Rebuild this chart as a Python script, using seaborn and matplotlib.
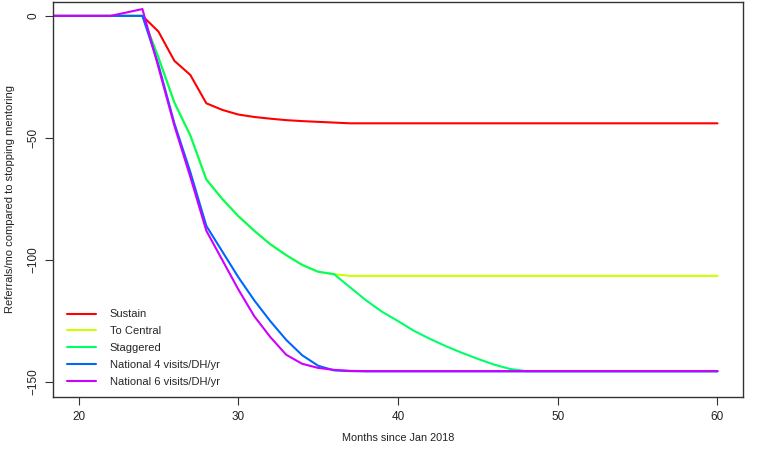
import matplotlib
matplotlib.use("Agg")
import matplotlib.pyplot as plt
import pandas as pd
import seaborn as sns

months = list(range(18, 61))

sustain = [0, 0, 0, 0, 0, 0, 0, -6.4, -18.4, -24.2,
           -35.8, -38.5, -40.4, -41.4, -42.1, -42.7, -43.1, -43.4, -43.7, -44.0,
           -44.0, -44.0, -44.0, -44.0, -44.0, -44.0, -44.0, -44.0, -44.0, -44.0,
           -44.0, -44.0, -44.0, -44.0, -44.0, -44.0, -44.0, -44.0, -44.0, -44.0,
           -44.0, -44.0, -44.0]
to_central = [0, 0, 0, 0, 0, 0, 0, -17, -35.5, -49,
              -67, -75, -82, -88, -93.5, -98, -102, -104.8, -105.8, -106.5,
              -106.5, -106.5, -106.5, -106.5, -106.5, -106.5, -106.5, -106.5, -106.5, -106.5,
              -106.5, -106.5, -106.5, -106.5, -106.5, -106.5, -106.5, -106.5, -106.5, -106.5,
              -106.5, -106.5, -106.5]
staggered = [0, 0, 0, 0, 0, 0, 0, -17, -35.5, -49,
             -67, -75, -82, -88, -93.5, -98, -102, -104.8, -105.8, -111.2,
             -116.5, -121.2, -125, -129, -132.3, -135.3, -138, -140.5, -142.8, -144.6,
             -145.5, -145.5, -145.5, -145.5, -145.5, -145.5, -145.5, -145.5, -145.5, -145.5,
             -145.5, -145.5, -145.5]
national4 = [0, 0, 0, 0, 0, 0, 0, -20, -44, -64,
             -86, -96.5, -107, -116.5, -125, -132.7, -139, -143.3, -145.2, -145.5,
             -145.6, -145.6, -145.6, -145.6, -145.6, -145.6, -145.6, -145.6, -145.6, -145.6,
             -145.6, -145.6, -145.6, -145.6, -145.6, -145.6, -145.6, -145.6, -145.6, -145.6,
             -145.6, -145.6, -145.6]
national6 = [0, 0, 0, 0, 0, 1.4, 2.8, -21, -45, -66,
             -88, -100, -112, -123, -131.5, -138.8, -142.5, -144.2, -145, -145.4,
             -145.5, -145.5, -145.5, -145.5, -145.5, -145.5, -145.5, -145.5, -145.5, -145.5,
             -145.5, -145.5, -145.5, -145.5, -145.5, -145.5, -145.5, -145.5, -145.5, -145.5,
             -145.5, -145.5, -145.5]

scenarios = ["Sustain", "To Central", "Staggered",
             "National 4 visits/DH/yr", "National 6 visits/DH/yr"]
colors = ["#FF0000", "#CCFF00", "#00FF66", "#0066FF", "#CC00FF"]

series = [sustain, to_central, staggered, national4, national6]
df = pd.concat(
    [pd.DataFrame({"month": months, "value": vals, "scenario": name})
     for name, vals in zip(scenarios, series)],
    ignore_index=True,
)

sns.set_style("ticks")
plt.rcParams["font.family"] = ["Liberation Sans", "DejaVu Sans"]

fig = plt.figure(figsize=(7.7, 4.5), dpi=100)
ax = fig.add_axes([0.0688, 0.1178, 0.8962, 0.8778])

sns.lineplot(data=df, x="month", y="value", hue="scenario",
             hue_order=scenarios, palette=colors, linewidth=1.5, ax=ax)

ax.set_xlim(18.4, 61.6)
ax.set_ylim(-156.1, 5.7)
ax.set_xticks([20, 30, 40, 50, 60])
ax.set_yticks([0, -50, -100, -150])
ax.set_yticklabels(["0", "\u221250", "\u2212100", "\u2212150"],
                   rotation=90, va="center")

for side in ["left", "right", "top", "bottom"]:
    ax.spines[side].set_visible(True)
    ax.spines[side].set_color("#333333")
    ax.spines[side].set_linewidth(1.0)
ax.tick_params(direction="out", length=6, width=0.8, color="#333333",
               labelsize=8.5, labelcolor="#222222")
ax.tick_params(axis="x", pad=4)
ax.tick_params(axis="y", pad=4)

ax.set_xlabel("Months since Jan 2018", fontsize=7.8, color="#222222", labelpad=7)
ax.set_ylabel("Referrals/mo compared to stopping mentoring", fontsize=8,
              color="#222222", labelpad=9)

ax.legend(loc="lower left", frameon=False, fontsize=8, handlelength=2.6,
          handletextpad=1.25, labelspacing=0.62, borderaxespad=0.5,
          bbox_to_anchor=(0.006, 0.0))

fig.savefig("out.png", dpi=100)
